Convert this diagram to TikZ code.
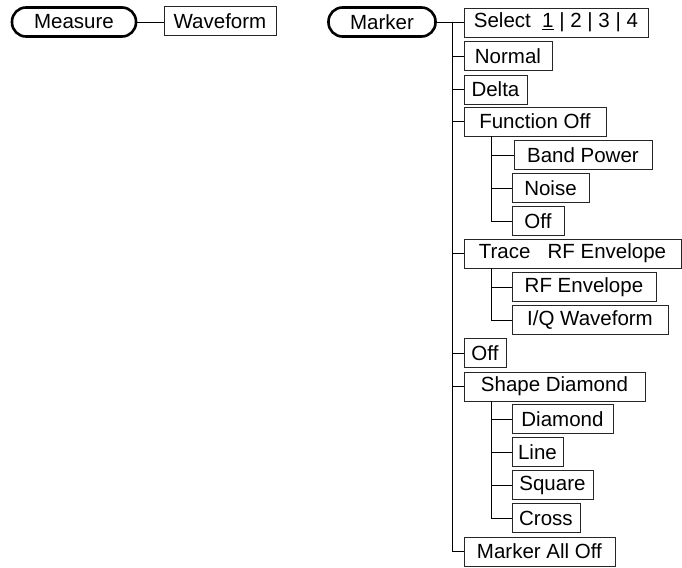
\documentclass[tikz,border=0pt]{standalone}
\usepackage{fontspec}
\setmainfont{Liberation Sans}
\usepackage{tikz}
\usetikzlibrary{arrows}

\begin{document}
\begin{tikzpicture}[
            x = 1pt, y = -1pt, % pixel grid, y going down
            font = \fontsize{20.5}{24}\selectfont,
            line width = 0.9pt % line style
        ]

        \tikzstyle{menu}=[
            draw = black,
            line width = 2.6pt,
            rounded corners = 14pt,
            minimum height = 29pt,
            inner sep = 0pt
        ]
        \tikzstyle{item}=[
            draw = black!85,
            line width = 0.9pt,
            minimum height = 29pt,
            inner sep = 0pt,
            anchor = west
        ]

        \useasboundingbox (0, 0) rectangle (682, 567);

        % keys
        \node[menu, minimum width = 124pt] (Meas) at (74, 22) {Measure};
        \node[menu, minimum width = 107pt] (Mark) at (382, 22) {Marker};

        \node[item, minimum width = 112pt] (Wave) at (163.5, 21) {Waveform};

        \node[item, minimum width = 184pt] (Sel) at (463.5, 22.5) {Select\ \ \underline{1} | 2 | 3 | 4};
        \node[item, minimum width = 88pt] (Norm) at (463.5, 56) {Normal};
        \node[item, minimum width = 63pt] (Delta) at (463.5, 89.5) {Delta};
        \node[item, minimum width = 142pt] (Func) at (463.5, 121.5) {Function Off};
        \node[item, minimum width = 138pt] (Band) at (513.5, 155) {Band Power};
        \node[item, minimum width = 77pt] (Noise) at (511.5, 188) {Noise};
        \node[item, minimum width = 52pt] (FOff) at (511.5, 221) {Off};
        \node[item, minimum width = 217pt] (Trace) at (463.5, 253.5) {Trace\ \ \ RF Envelope};
        \node[item, minimum width = 144pt] (RFE) at (511.5, 287) {RF Envelope};
        \node[item, minimum width = 156pt] (IQ) at (511.5, 320) {I/Q Waveform};
        \node[item, minimum width = 42pt] (Off) at (463.5, 353) {Off};
        \node[item, minimum width = 181pt] (Shape) at (463.5, 386.5) {Shape Diamond};
        \node[item, minimum width = 101pt] (Dia) at (511.5, 419) {Diamond};
        \node[item, minimum width = 51pt] (Line) at (511.5, 452) {Line};
        \node[item, minimum width = 81pt] (Sq) at (511.5, 485) {Square};
        \node[item, minimum width = 68pt] (Cross) at (511.5, 518) {Cross};
        \node[item, minimum width = 151pt] (All) at (463.5, 551.5) {Marker All Off};

        \draw (Meas.east) -- (Wave.west |- Meas.east);
        \draw (Mark.east) -- (Sel.west |- Mark.east);

        \coordinate (T) at (452, 22);
        \foreach \n in {Norm, Delta, Func, Trace, Off, Shape, All}
            \draw (T) |- (\n.west);

        \foreach \n in {Band, Noise, FOff}
            \draw (Func.south west) ++(28, 0) |- (\n.west);
        \foreach \n in {RFE, IQ}
            \draw (Trace.south west) ++(28, 0) |- (\n.west);
        \foreach \n in {Dia, Line, Sq, Cross}
            \draw (Shape.south west) ++(28, 0) |- (\n.west);

        %\draw[red] (0, 0) rectangle (682, 567);
    \end{tikzpicture}
\end{document}
